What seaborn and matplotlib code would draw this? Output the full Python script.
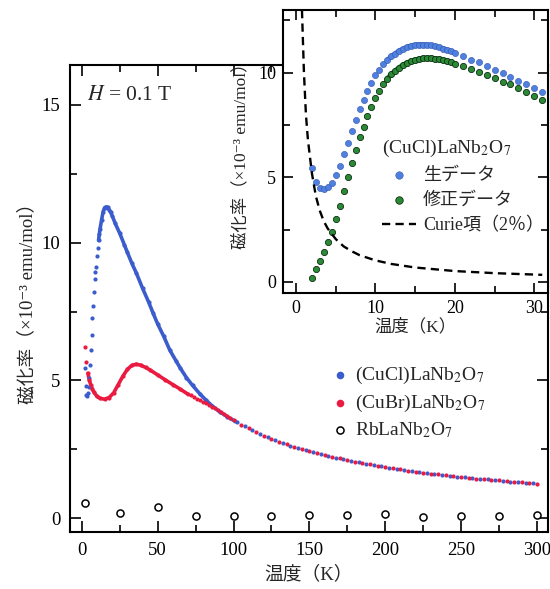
import numpy as np
import pandas as pd
import matplotlib
matplotlib.use("Agg")
import matplotlib.pyplot as plt
import seaborn as sns
from matplotlib.ticker import MultipleLocator

# ---------------- data ----------------
# main panel: (CuCl)LaNb2O7
cucl_T = [2, 2.5, 3, 3.5, 4, 4.5, 5, 5.5, 6, 6.5, 7, 7.5, 8, 8.5, 9, 9.5, 10, 10.5, 11,
          11.5, 12, 13, 14, 15, 16, 17, 18, 19, 20, 22, 25, 28, 30, 33, 36, 40, 44, 47,
          50, 54, 58, 62, 65, 69, 73, 78, 82, 86, 91, 96, 101]
cucl_chi = [5.45, 4.8, 4.48, 4.45, 4.55, 4.75, 5.1, 5.55, 6.1, 6.65, 7.25, 7.7, 8.2, 8.68,
            8.95, 9.12, 9.5, 9.8, 10.08, 10.3, 10.5, 10.82, 11.12, 11.27, 11.3, 11.28, 11.2,
            11.1, 10.98, 10.7, 10.34, 9.93, 9.65, 9.25, 8.89, 8.35, 7.85, 7.44, 7.05, 6.6,
            6.1, 5.72, 5.44, 5.1, 4.82, 4.5, 4.28, 4.07, 3.86, 3.68, 3.52]
cucl_tail_T = [102.5, 107.5, 112.5, 117.5, 122.5, 127.5, 132.5, 137.5, 142.5, 147.5,
               152.5, 157.5, 162.5, 167.5, 172.5, 177.5, 182.5, 187.5, 192.5, 197.5,
               202.5, 207.5, 212.5, 217.5, 222.5, 227.5, 232.5, 237.5, 242.5, 247.5,
               252.5, 257.5, 262.5, 267.5, 272.5, 277.5, 282.5, 287.5, 292.5, 297.5]
cucl_tail_chi = [3.48, 3.33, 3.19, 3.06, 2.94, 2.83, 2.73, 2.63, 2.55, 2.47, 2.40, 2.33,
                 2.26, 2.20, 2.14, 2.08, 2.03, 1.97, 1.93, 1.88, 1.83, 1.79, 1.75, 1.71,
                 1.67, 1.64, 1.61, 1.58, 1.55, 1.51, 1.49, 1.46, 1.43, 1.41, 1.38, 1.36,
                 1.33, 1.31, 1.29, 1.26]

# main panel: (CuBr)LaNb2O7
cubr_T = [2, 3, 4, 5, 6, 7, 8, 10, 12, 15, 18, 21, 24, 27, 30, 33, 36, 39, 42, 45, 50,
          55, 60, 65, 70]
cubr_chi = [6.2, 5.66, 5.26, 5.0, 4.82, 4.68, 4.57, 4.42, 4.35, 4.32, 4.38, 4.55, 4.85,
            5.15, 5.4, 5.55, 5.59, 5.55, 5.47, 5.38, 5.2, 5.02, 4.85, 4.68, 4.5]
cubr_tail_T = [72, 74, 76, 78, 80, 82, 84, 86, 88, 90, 92, 94, 96, 98, 100,
               105, 110, 115, 120, 125, 130, 135, 140, 145, 150, 155, 160, 165, 170,
               175, 180, 185, 190, 195, 200, 205, 210, 215, 220, 225, 230, 235, 240,
               245, 250, 255, 260, 265, 270, 275, 280, 285, 290, 295, 300]
cubr_tail_chi = [4.46, 4.40, 4.34, 4.28, 4.22, 4.17, 4.11, 4.05, 3.99, 3.92, 3.86, 3.79,
                 3.72, 3.65, 3.58, 3.40, 3.26, 3.13, 3.00, 2.89, 2.78, 2.68, 2.59, 2.51,
                 2.43, 2.36, 2.29, 2.23, 2.17, 2.11, 2.05, 2.00, 1.95, 1.90, 1.85, 1.81,
                 1.77, 1.73, 1.69, 1.65, 1.62, 1.59, 1.56, 1.53, 1.50, 1.47, 1.44, 1.42,
                 1.39, 1.37, 1.34, 1.32, 1.30, 1.27, 1.25]

# main panel: RbLaNb2O7
rb_T = [2, 25, 50, 75, 100, 125, 150, 175, 200, 225, 250, 275, 300]
rb_chi = [0.54, 0.18, 0.41, 0.08, 0.08, 0.08, 0.12, 0.12, 0.14, 0.06, 0.08, 0.08, 0.10]

# inset: raw and corrected data
ins_T = [2, 2.5, 3, 3.5, 4, 4.5, 5, 5.5, 6, 6.5, 7, 7.5, 8, 8.5, 9, 9.5, 10, 10.5, 11,
         11.5, 12, 12.5, 13, 13.5, 14, 14.5, 15, 15.5, 16, 16.5, 17, 17.5, 18, 18.5, 19,
         19.5, 20, 21, 22, 23, 24, 25, 26, 27, 28, 29, 30, 31]
raw_chi = [5.45, 4.8, 4.48, 4.45, 4.55, 4.75, 5.1, 5.55, 6.1, 6.65, 7.2, 7.75, 8.25, 8.7,
           9.15, 9.52, 9.88, 10.15, 10.4, 10.6, 10.78, 10.92, 11.05, 11.15, 11.23, 11.29,
           11.33, 11.35, 11.35, 11.34, 11.31, 11.27, 11.22, 11.16, 11.1, 11.03, 10.95,
           10.78, 10.62, 10.5, 10.3, 10.14, 9.97, 9.78, 9.62, 9.46, 9.27, 9.08]
corr_chi = [0.2, 0.6, 1.0, 1.42, 1.9, 2.4, 3.0, 3.65, 4.37, 5.0, 5.7, 6.33, 6.92, 7.42,
            7.95, 8.38, 8.8, 9.15, 9.45, 9.72, 9.93, 10.1, 10.25, 10.38, 10.48, 10.56,
            10.62, 10.66, 10.69, 10.70, 10.70, 10.68, 10.65, 10.61, 10.56, 10.5, 10.44,
            10.3, 10.18, 10.02, 9.87, 9.73, 9.58, 9.44, 9.25, 9.09, 8.91, 8.72]
curie_T = [0.75, 1.0, 1.25, 1.5, 2, 2.5, 3, 3.5, 4, 5, 6, 7, 8, 10, 12, 15, 20, 25, 31]
curie_chi = [13.0, 10.0, 8.0, 6.8, 5.2, 4.1, 3.4, 2.9, 2.55, 2.05, 1.7, 1.47, 1.28, 1.03,
             0.86, 0.69, 0.52, 0.42, 0.34]

lab_cucl = "(CuCl)LaNb$_2$O$_7$"
lab_cubr = "(CuBr)LaNb$_2$O$_7$"
lab_rb = "RbLaNb$_2$O$_7$"
ylab = "磁化率（×10⁻³ emu/mol）"
xlab = "温度（K）"

# ---------------- style ----------------
sns.set_theme(style="ticks")
plt.rcParams["font.family"] = ["Liberation Serif", "DejaVu Serif", "Noto Sans CJK JP"]
plt.rcParams["mathtext.fontset"] = "stix"
plt.rcParams["axes.unicode_minus"] = False

BLUE = "#3b5ccc"
RED = "#ea1a40"
IBLUE = "#4f80e0"
GREEN = "#2c8a36"

fig = plt.figure(figsize=(5.5, 5.89), dpi=100)
ax = fig.add_axes([0.127, 0.0968, 0.869, 0.7929])
ins = fig.add_axes([0.5145, 0.5025, 0.4815, 0.4805])
ins.set_zorder(5)

# ---------------- main panel ----------------
d_cucl = pd.DataFrame({"T": cucl_T, "chi": cucl_chi})
d_cucl_dense = d_cucl[d_cucl["T"] >= 11]
d_cubr = pd.DataFrame({"T": cubr_T, "chi": cubr_chi})
d_cubr_dense = d_cubr[d_cubr["T"] >= 4]

sns.lineplot(data=d_cucl_dense, x="T", y="chi", ax=ax, color=BLUE, lw=2.6,
             sort=False, estimator=None, zorder=2)
sns.scatterplot(data=d_cucl, x="T", y="chi", ax=ax, color=BLUE, s=9, linewidth=0,
                zorder=3, label=lab_cucl)
sns.scatterplot(x=cucl_tail_T, y=cucl_tail_chi, ax=ax, color=BLUE, s=9, linewidth=0,
                zorder=3)
sns.lineplot(data=d_cubr_dense, x="T", y="chi", ax=ax, color=RED, lw=2.6,
             sort=False, estimator=None, zorder=2)
sns.scatterplot(data=d_cubr, x="T", y="chi", ax=ax, color=RED, s=9, linewidth=0,
                zorder=3, label=lab_cubr)
sns.scatterplot(x=cubr_tail_T, y=cubr_tail_chi, ax=ax, color=RED, s=9, linewidth=0,
                zorder=4)
sns.scatterplot(x=rb_T, y=rb_chi, ax=ax, facecolor="white", edgecolor="black", s=26,
                linewidth=1.1, zorder=3, label=lab_rb)

ax.set_xlim(-7.9, 307.2)
ax.set_ylim(-0.5, 16.45)
ax.xaxis.set_major_locator(MultipleLocator(50))
ax.xaxis.set_minor_locator(MultipleLocator(25))
ax.yaxis.set_major_locator(MultipleLocator(5))
ax.yaxis.set_minor_locator(MultipleLocator(2.5))
ax.tick_params(which="both", direction="in", top=True, right=True, width=1.2,
               labelsize=13.5, colors="black")
ax.tick_params(which="major", length=8, pad=7)
ax.tick_params(which="minor", length=5)
ax.set_xlabel(xlab, fontsize=13.5, labelpad=5)
ax.set_ylabel(ylab, fontsize=13.5, labelpad=4)
for s in ax.spines.values():
    s.set_linewidth(1.5)
    s.set_color("black")
ax.text(0.035, 0.955, "$H$ = 0.1 T", transform=ax.transAxes, fontsize=15.5,
        va="top", ha="left")
leg = ax.legend(loc="upper left", bbox_to_anchor=(0.53, 0.375), frameon=False,
                fontsize=14, handlelength=0.9, handletextpad=0.35, labelspacing=0.35,
                borderaxespad=0)
for h, sz in zip(leg.legend_handles, [30, 30, 26]):
    h.set_sizes([sz])

# ---------------- inset ----------------
d_raw = pd.DataFrame({"T": ins_T, "chi": raw_chi})
d_cor = pd.DataFrame({"T": ins_T, "chi": corr_chi})
mid = (d_raw["T"] >= 11.5) & (d_raw["T"] <= 20)
sns.lineplot(data=d_raw[mid], x="T", y="chi", ax=ins, color=IBLUE, lw=3.6,
             sort=False, estimator=None, zorder=2)
sns.lineplot(data=d_cor[mid], x="T", y="chi", ax=ins, color=GREEN, lw=3.6,
             sort=False, estimator=None, zorder=2)
sns.scatterplot(data=d_raw, x="T", y="chi", ax=ins, color=IBLUE, s=20,
                edgecolor="#3355aa", linewidth=0.4, zorder=3, label="生データ")
sns.scatterplot(data=d_cor, x="T", y="chi", ax=ins, color=GREEN, s=20,
                edgecolor="#0b3012", linewidth=0.6, zorder=3, label="修正データ")
sns.lineplot(x=curie_T, y=curie_chi, ax=ins, color="black", lw=1.7,
             dashes=False, linestyle=(0, (3.5, 2.2)), zorder=4, label="Curie項（2％）",
             sort=False, estimator=None)

ins.set_xlim(-1.64, 31.7)
ins.set_ylim(-0.53, 13.0)
ins.xaxis.set_major_locator(MultipleLocator(10))
ins.xaxis.set_minor_locator(MultipleLocator(5))
ins.yaxis.set_major_locator(MultipleLocator(5))
ins.yaxis.set_minor_locator(MultipleLocator(2.5))
ins.tick_params(which="both", direction="in", top=True, right=True, width=1.2,
                labelsize=13, colors="black")
ins.tick_params(which="major", length=7, pad=5)
ins.tick_params(which="minor", length=5)
ins.set_xlabel(xlab, fontsize=12.5, labelpad=1)
ins.set_ylabel(ylab, fontsize=12.5, labelpad=6)
ins.set_facecolor("white")
for s in ins.spines.values():
    s.set_linewidth(1.5)
    s.set_color("black")
ileg = ins.legend(loc="upper left", bbox_to_anchor=(0.345, 0.575), frameon=False,
                  fontsize=13, title=lab_cucl, title_fontsize=14, markerscale=1.2,
                  handlelength=1.9, handletextpad=0.4, labelspacing=0.45,
                  borderaxespad=0)
ileg._legend_box.align = "left"

fig.savefig("out.png", dpi=100)
